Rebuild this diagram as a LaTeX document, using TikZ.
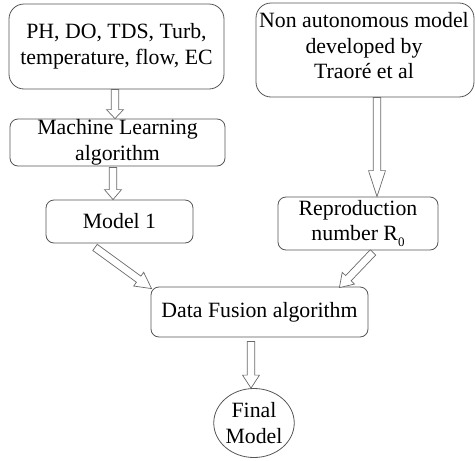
\documentclass[tikz,border=0pt]{standalone}
\usepackage{fontspec}
\setmainfont{Liberation Serif}
\usetikzlibrary{calc,shapes.geometric}
\definecolor{boxline}{HTML}{555555}
\definecolor{arrline}{HTML}{6A6A6A}
\newcommand{\blockarrow}[3]{%
  \coordinate (bs) at (#1);
  \coordinate (be) at (#2);
  \coordinate (bh) at ($(be)!#3!(bs)$);
  \draw[barrow] ($(bs)!3.8pt!90:(be)$) -- ($(bh)!3.8pt!90:(be)$) -- ($(bh)!8.5pt!90:(be)$) -- (be)
     -- ($(bh)!8.5pt!-90:(be)$) -- ($(bh)!3.8pt!-90:(be)$) -- ($(bs)!3.8pt!-90:(be)$) -- cycle;
}
\tikzset{
  txt/.style={font=\fontsize{21.8}{25.5}\selectfont, align=center, inner sep=0pt},
  box/.style={txt, draw=boxline, line width=0.8pt, rounded corners=#1},
  box/.default=8pt,
  barrow/.style={draw=arrline, fill=white, line width=0.7pt, line join=miter},
}
\begin{document}
\begin{tikzpicture}[x=1pt,y=-1pt]
\useasboundingbox (0,0) rectangle (475,461);
\node[box=15pt, minimum width=215pt, minimum height=85pt] (b1) at (116.5,46.5) {PH, DO, TDS, Turb,\\temperature, flow, EC};
\node[box, minimum width=215pt, minimum height=47pt] (b2) at (117.5,142.5) {Machine Learning\\algorithm};
\node[box, minimum width=147pt, minimum height=43pt] (b3) at (119.5,221.5) {Model 1};
\node[box=15pt, minimum width=218pt, minimum height=94pt] (b4) at (365,50) {};
\node[txt] (t4) at (364,46) {Non autonomous model\\developed by\\Traoré et al};
\node[box, minimum width=160pt, minimum height=53pt] (b5) at (358,223.5) {Reproduction\\number R\raisebox{-6pt}{\fontsize{13}{13}\selectfont 0}};
\node[box, minimum width=217pt, minimum height=50pt] (b6) at (259.5,312) {Data Fusion algorithm};
\node[txt, draw=boxline, line width=0.8pt, ellipse, minimum width=74pt, minimum height=69pt] (fm) at (254,423) {Final\\Model};

\coordinate (a1s) at ($(b1.south)+(-1.5,0)$);
\coordinate (a1e) at (b2.north -| a1s);
\blockarrow{a1s}{a1e}{9pt}
\coordinate (a2s) at ($(b2.south)+(-4.5,1)$);
\coordinate (a2e) at (b3.north -| a2s);
\blockarrow{a2s}{a2e}{10pt}
\coordinate (a3s) at ($(b3.south)+(-24.5,4)$);
\coordinate (a3e) at ($(b6.north west)+(1,2)$);
\blockarrow{a3s}{a3e}{16pt}
\coordinate (a4s) at ($(b4.south)+(12,0)$);
\coordinate (a4e) at (b5.north -| a4s);
\blockarrow{a4s}{a4e}{26pt}
\coordinate (a5s) at ($(b5.south)+(15,2)$);
\coordinate (a5e) at ($(b6.north east)+(-29,1)$);
\blockarrow{a5s}{a5e}{13pt}
\coordinate (a6s) at ($(b6.south)+(-8.5,4)$);
\coordinate (a6e) at (fm.north -| a6s);
\blockarrow{a6s}{a6e}{13pt}
\end{tikzpicture}
\end{document}
